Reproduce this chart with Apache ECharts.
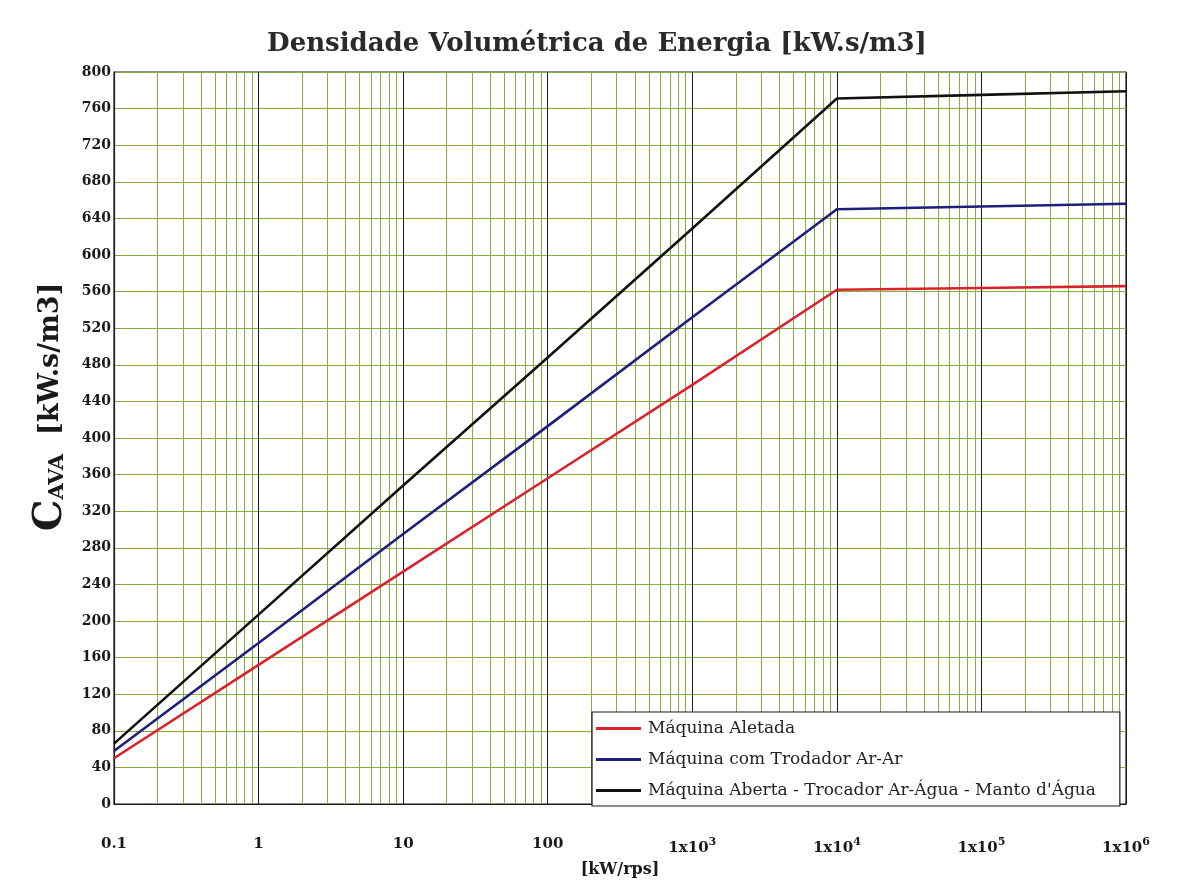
<!DOCTYPE html>
<html>
<head>
<meta charset="utf-8">
<title>Densidade Volumétrica de Energia</title>
<script src="https://cdn.jsdelivr.net/npm/echarts@6/dist/echarts.min.js"></script>
<style>
  html, body { margin: 0; padding: 0; background: #ffffff; }
  #chart { width: 1194px; height: 883px; }
</style>
</head>
<body>
<div id="chart"></div>
<script>
// Potência por rotação [kW/rps], one point per decade
const potencia = [0.1, 1, 10, 100, 1e3, 1e4, 1e5, 1e6];

// Densidade volumétrica de energia C_AVA [kW.s/m3] per machine type
const maquinaAletada = [50, 152, 254, 356, 458, 562, 564, 566];
const maquinaTrocadorArAr = [58, 176, 295, 413, 532, 650, 653, 656];
const maquinaAbertaAgua = [66, 207, 348, 488, 629, 771, 775, 779];

const seriesNames = [
  'Máquina Aletada',
  'Máquina com Trodador Ar-Ar',
  'Máquina Aberta - Trocador Ar-Água - Manto d\'Água'
];

// y axis range and step
const yMin = 0, yMax = 800, yStep = 40;

// intermediate log grid lines (2..9 within each decade)
const decadeStarts = [0.1, 1, 10, 100, 1e3, 1e4, 1e5];
const minorMultipliers = [2, 3, 4, 5, 6, 7, 8, 9];

const serif = '"DejaVu Serif", "Liberation Serif", serif';
const ink = '#1a1a1a';
const gridGreen = '#86ad3e';

function pairs(ys) { return potencia.map((x, i) => [x, ys[i]]); }

function xLabel(v) {
  if (v < 1000) {
    return v < 1 ? String(+v.toFixed(1)) : String(Math.round(v));
  }
  const e = Math.round(Math.log10(v));
  return '1x10{sup|' + e + '}';
}

const minorLines = [];
decadeStarts.forEach(d => minorMultipliers.forEach(m => {
  minorLines.push({ xAxis: +(d * m).toPrecision(3) });
}));

const chart = echarts.init(document.getElementById('chart'), null, { renderer: 'canvas' });

chart.setOption({
  backgroundColor: '#ffffff',
  animation: false,
  title: {
    text: 'Densidade Volumétrica de Energia [kW.s/m3]',
    left: 'center',
    top: 26,
    textStyle: { fontFamily: serif, fontWeight: 'bold', fontSize: 26, color: '#2a2a2a' }
  },
  grid: {
    left: 114, right: 68, top: 72, bottom: 72,
    show: true, borderColor: ink, borderWidth: 1.2, backgroundColor: 'transparent'
  },
  legend: {
    orient: 'vertical',
    left: 592, top: 712,
    padding: [8, 24, 7, 4],
    backgroundColor: '#ffffff',
    borderColor: ink,
    borderWidth: 1.2,
    itemGap: 14,
    itemWidth: 45,
    itemHeight: 3,
    icon: 'rect',
    textStyle: { fontFamily: serif, fontSize: 17, color: '#222', padding: [0, 0, 0, 2] },
    data: seriesNames
  },
  xAxis: {
    type: 'log',
    logBase: 10,
    min: 0.1,
    max: 1e6,
    name: '[kW/rps]',
    nameLocation: 'middle',
    nameGap: 58,
    nameTextStyle: { fontFamily: serif, fontWeight: 'bold', fontSize: 16, color: ink },
    axisLine: { lineStyle: { color: ink, width: 1.2 } },
    axisTick: { show: false },
    axisLabel: {
      margin: 33,
      fontFamily: serif, fontWeight: 'bold', fontSize: 15, color: ink,
      formatter: xLabel,
      rich: {
        sup: { fontFamily: serif, fontWeight: 'bold', fontSize: 11, color: ink, verticalAlign: 'top', padding: [0, 0, 12, 0] }
      }
    },
    splitLine: { show: true, lineStyle: { color: ink, width: 1 } }
  },
  yAxis: {
    type: 'value',
    min: yMin, max: yMax, interval: yStep,
    name: '{big|C}{small|AVA}  [kW.s/m3]',
    nameLocation: 'middle',
    nameRotate: 90,
    nameGap: 40,
    nameTextStyle: {
      fontFamily: serif, fontWeight: 'bold', fontSize: 27, color: ink,
      padding: [0, 0, 0, 62],
      rich: {
        big: { fontFamily: serif, fontWeight: 'bold', fontSize: 40, color: ink },
        small: { fontFamily: serif, fontWeight: 'bold', fontSize: 21, color: ink, padding: [14, 0, 0, 0] }
      }
    },
    axisLine: { show: true, lineStyle: { color: ink, width: 1.2 } },
    axisTick: { show: false },
    axisLabel: { margin: 3, fontFamily: serif, fontWeight: 'bold', fontSize: 14, color: ink },
    splitLine: { show: true, lineStyle: { color: gridGreen, width: 1 } }
  },
  series: [
    {
      name: seriesNames[0], type: 'line', data: pairs(maquinaAletada),
      showSymbol: false, color: '#d8232e', lineStyle: { width: 2.6, color: '#d8232e' }, z: 5,
      markLine: {
        silent: true, symbol: ['none', 'none'], label: { show: false },
        lineStyle: { color: gridGreen, width: 1, type: 'solid' },
        z: 1,
        data: minorLines
      }
    },
    {
      name: seriesNames[1], type: 'line', data: pairs(maquinaTrocadorArAr),
      showSymbol: false, color: '#1d1f7a', lineStyle: { width: 2.6, color: '#1d1f7a' }, z: 5
    },
    {
      name: seriesNames[2], type: 'line', data: pairs(maquinaAbertaAgua),
      showSymbol: false, color: '#111111', lineStyle: { width: 2.6, color: '#111111' }, z: 5
    }
  ]
});
</script>
</body>
</html>
